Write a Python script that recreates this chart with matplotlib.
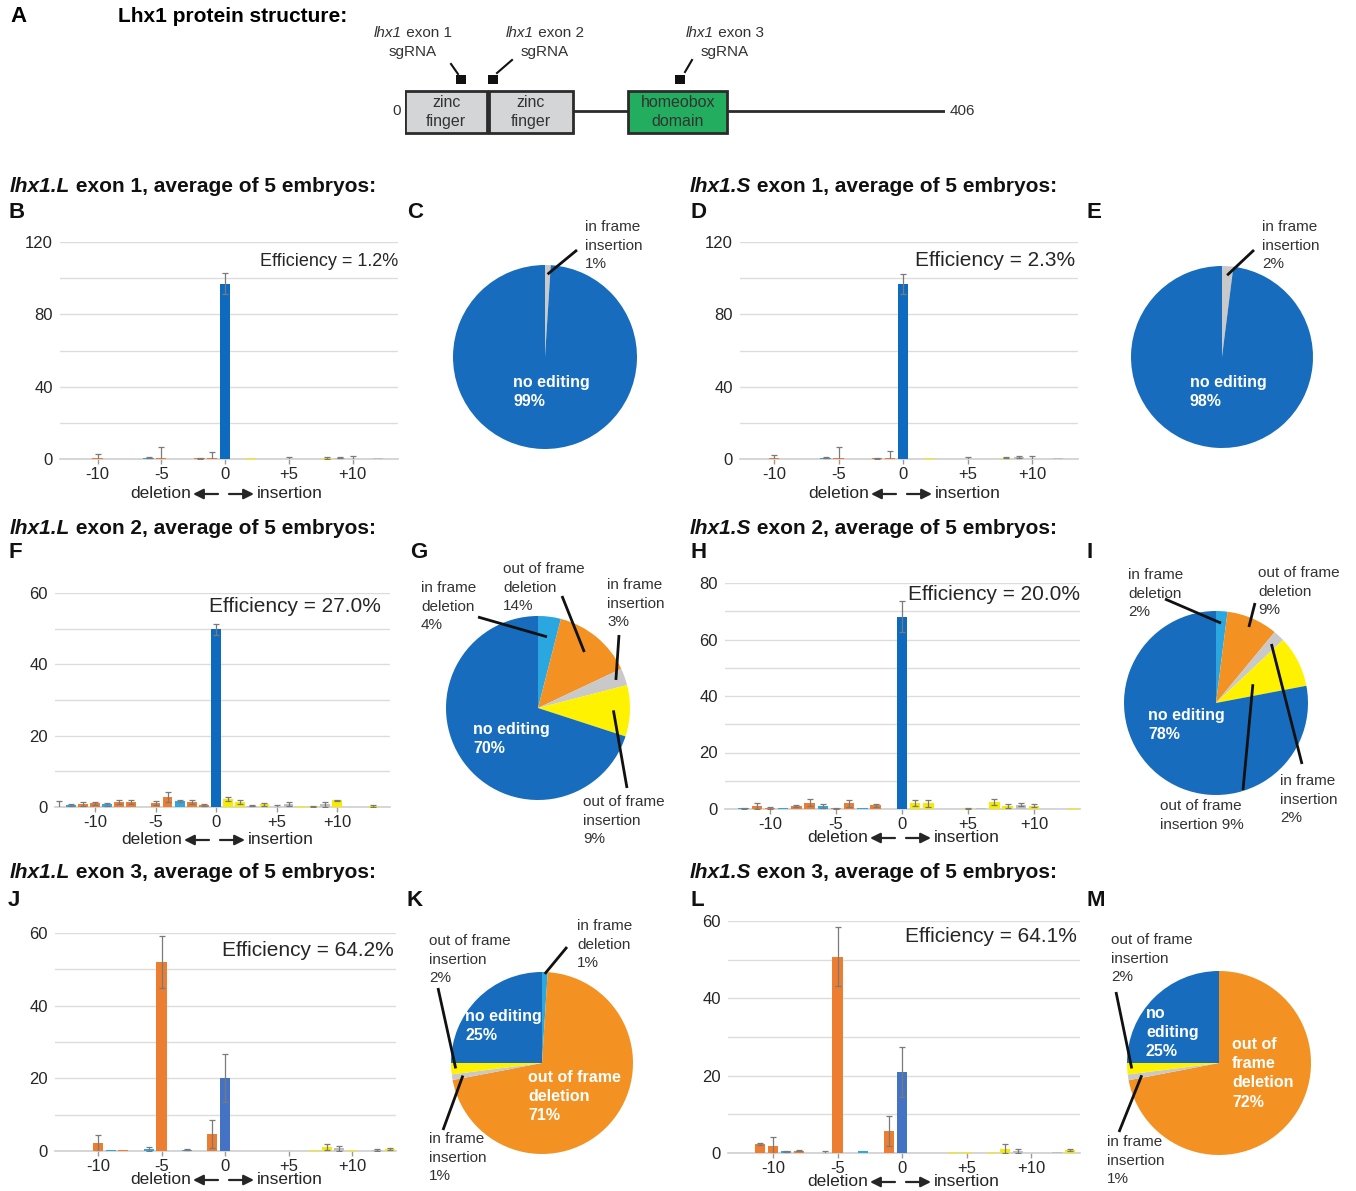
import matplotlib
matplotlib.use('Agg')
import matplotlib.pyplot as plt
from matplotlib.patches import Rectangle
from matplotlib.ticker import MultipleLocator
from matplotlib.offsetbox import TextArea, HPacker, AnnotationBbox
import numpy as np

plt.rcParams['font.family'] = ['Liberation Sans', 'DejaVu Sans']

W, H = 1356, 1191

# ---- data ----
protein_len = 406
domain_names = ['zinc\nfinger', 'zinc\nfinger', 'homeobox\ndomain']
domain_start = [0, 63, 168]
domain_end = [62, 126, 242]
domain_fill = ['#d3d5d6', '#d3d5d6', '#22ae5e']
sgrna_exon = ['exon 1', 'exon 2', 'exon 3']
sgrna_site = [42, 66, 207]

# indel size (bp) -> % of reads, mean and error
b_pos = [-12, -10, -9, -8, -6, -5, -3, -2, -1, 0, 2, 5, 7, 8, 9, 10, 12, 13]
b_val = [0.2, 0.3, 0.2, 0.2, 0.6, 0.4, 0.2, 0.4, 0.5, 97.0, 0.3, 0.1, 0.2, 0.6, 0.8, 0.2, 0.3, 0.2]
b_err = [0, 2.2, 0, 0, 0.3, 6.2, 0, 0.3, 3.6, 5.8, 0, 1.0, 0, 0.4, 0.5, 1.5, 0, 0]

d_pos = [-12, -10, -9, -8, -6, -5, -3, -2, -1, 0, 2, 5, 7, 8, 9, 10, 12, 13]
d_val = [0.2, 0.3, 0.2, 0.2, 0.6, 0.3, 0.2, 0.4, 0.5, 97.0, 0.3, 0.1, 0.2, 0.7, 0.9, 0.2, 0.3, 0.2]
d_err = [0, 2.0, 0, 0, 0.3, 6.5, 0, 0.3, 3.8, 5.5, 0, 1.0, 0, 0.4, 0.5, 1.6, 0, 0]

f_pos = [-13, -12, -11, -10, -9, -8, -7, -5, -4, -3, -2, -1, 0, 1, 2, 3, 4, 5, 6, 7, 8, 9, 10, 13]
f_val = [0, 0.5, 0.8, 1.0, 0.8, 1.4, 1.4, 1.2, 2.7, 1.6, 1.4, 0.6, 49.8, 2.2, 1.4, 0.4, 0.8, 0.1,
         0.9, 0.2, 0.2, 0.8, 1.9, 0.3]
f_err = [1.7, 0.3, 0.5, 0.5, 0.4, 0.5, 0.5, 0.6, 1.4, 0.3, 0.5, 0.2, 1.6, 0.6, 0.5, 0.2, 0.4, 0.4,
         0.6, 0, 0.1, 0.7, 0.2, 0.2]

h_pos = [-13, -12, -11, -10, -9, -8, -7, -6, -5, -4, -3, -2, 0, 1, 2, 5, 6, 7, 8, 9, 10, 13]
h_val = [0.1, 0.3, 1.0, 0.3, 0.3, 1.0, 2.3, 1.0, 0.3, 2.0, 0.3, 1.3, 68.0, 2.0, 2.0, 0.2, 0.3,
         2.6, 1.0, 1.5, 1.2, 0.5]
h_err = [0, 0.2, 1.1, 0.3, 0, 0.3, 1.2, 0.7, 0.2, 1.3, 0, 0.5, 5.5, 1.1, 1.2, 0.2, 0, 1.1, 0.6,
         0.6, 0.6, 0]

j_pos = [-12, -10, -9, -8, -6, -5, -3, -1, 0, 5, 7, 8, 9, 10, 12, 13]
j_val = [0.1, 2.1, 0.2, 0.2, 0.6, 52.1, 0.4, 4.6, 20.2, 0.1, 0.3, 1.0, 0.7, 0.2, 0.3, 0.6]
j_err = [0, 2.3, 0, 0, 0.5, 7.2, 0.2, 3.8, 6.6, 0, 0, 0.8, 0.7, 0, 0.3, 0.3]

l_pos = [-11, -10, -9, -8, -6, -5, -3, -1, 0, 4, 5, 7, 8, 9, 12, 13]
l_val = [2.3, 1.9, 0.4, 0.6, 0.1, 50.8, 0.4, 5.6, 21.0, 0.2, 0.2, 0.2, 1.1, 0.5, 0.3, 0.7]
l_err = [0.2, 2.2, 0.2, 0.2, 0.3, 7.6, 0, 3.9, 6.5, 0, 0, 0, 1.2, 0.5, 0, 0.3]

efficiency = ['1.2', '2.3', '27.0', '20.0', '64.2', '64.1']

# pie order: in frame del, out of frame del, in frame ins, out of frame ins, no editing
c_pie = [0, 0, 1, 0, 99]
e_pie = [0, 0, 2, 0, 98]
g_pie = [4, 14, 3, 9, 70]
i_pie = [2, 9, 2, 9, 78]
k_pie = [1, 71, 1, 2, 25]
m_pie = [0, 72, 1, 2, 25]

xtick_pos = [-10, -5, 0, 5, 10]
xtick_lab = ['-10', '-5', '0', '+5', '+10']

pie_colors = ['#2aa6e0', '#f39223', '#c9c9c9', '#fff200', '#176cbd']
ORANGE, LBLUE, GREY, YELLOW = '#ed7d31', '#2fa7e1', '#c0c0c0', '#f7ec00'
TXT = '#262626'

fig = plt.figure(figsize=(W / 100, H / 100), dpi=100)


def add_ax(l, t, r, b):
    return fig.add_axes([l / W, 1 - b / H, (r - l) / W, (b - t) / H])


bg = fig.add_axes([0, 0, 1, 1])
bg.set_xlim(0, W)
bg.set_ylim(H, 0)
bg.axis('off')
bg.set_zorder(10)


def mixed_text(x, y, parts, halign, fontsize, weight, color):
    kids = [TextArea(s, textprops=dict(fontsize=fontsize, fontweight=weight, fontstyle=st,
                                       color=color)) for s, st in parts]
    box = HPacker(children=kids, align='baseline', pad=0, sep=0)
    ab = AnnotationBbox(box, (x, y), xycoords='data', box_alignment=(halign, 0.5),
                        frameon=False, pad=0, annotation_clip=False)
    bg.add_artist(ab)


def bar_color(p, main):
    if p == 0:
        return main
    if p < 0:
        return LBLUE if p % 3 == 0 else ORANGE
    return GREY if p % 3 == 0 else YELLOW


def bar_panel(rect, zero_px, ppu, ymax, lab_step, grid_step, pos, val, err, main,
              eff, eff_xy, eff_fs, arrow_y):
    l, t, r, b = rect
    ax = add_ax(*rect)
    ax.set_facecolor('none')
    pos, val, err = np.array(pos), np.array(val), np.array(err)
    ax.bar(pos, val, width=0.8, color=[bar_color(p, main) for p in pos], zorder=3)
    m = err > 0
    ax.errorbar(pos[m], val[m], yerr=err[m], fmt='none', ecolor='#7a7a7a',
                elinewidth=0.9, capsize=2.2, capthick=0.9, zorder=4)
    ax.set_xlim((l - zero_px) / ppu, (r - zero_px) / ppu)
    ax.set_ylim(0, ymax)
    ax.set_yticks(np.arange(0, ymax + 1, lab_step))
    ax.yaxis.set_minor_locator(MultipleLocator(grid_step))
    ax.grid(axis='y', which='both', color='#dcdcdc', lw=1)
    ax.set_axisbelow(True)
    ax.set_xticks(xtick_pos, xtick_lab)
    for s in ['top', 'right', 'left']:
        ax.spines[s].set_visible(False)
    ax.spines['bottom'].set_color('#cfcfcf')
    ax.spines['bottom'].set_linewidth(1.2)
    ax.tick_params(axis='y', which='both', length=0, pad=5, labelsize=12, labelcolor=TXT)
    ax.tick_params(axis='x', length=3.6, width=1, color='#9a9a9a', pad=2,
                   labelsize=12, labelcolor=TXT)
    bg.text(eff_xy[0], eff_xy[1], f'Efficiency = {eff}%', ha='right', va='center',
            fontsize=eff_fs, color=TXT)
    bg.text(zero_px - 34, arrow_y, 'deletion', ha='right', va='center', fontsize=12.5, color=TXT)
    bg.text(zero_px + 32, arrow_y, 'insertion', ha='left', va='center', fontsize=12.5, color=TXT)
    ap = dict(arrowstyle='-|>', color=TXT, lw=1.6, mutation_scale=15, shrinkA=0, shrinkB=0)
    bg.annotate('', xy=(zero_px - 32, arrow_y), xytext=(zero_px - 7, arrow_y), arrowprops=ap)
    bg.annotate('', xy=(zero_px + 29, arrow_y), xytext=(zero_px + 4, arrow_y), arrowprops=ap)
    return ax


def pie_panel(cx, cy, rad, vals, outer, inner):
    ax = add_ax(cx - rad, cy - rad, cx + rad, cy + rad)
    wedges, _ = ax.pie(vals, colors=pie_colors, startangle=90, counterclock=False,
                       radius=1, wedgeprops=dict(linewidth=0))
    ax.set_xlim(-1, 1)
    ax.set_ylim(-1, 1)
    ax.axis('off')
    for k, tmpl, tx, ty, sx, sy, rf in outer:
        bg.text(tx, ty + 3, tmpl.format(vals[k]), ha='left', va='top', fontsize=11,
                color='#333333', linespacing=1.42)
        w = wedges[k]
        ang = np.deg2rad((w.theta1 + w.theta2) / 2)
        bg.plot([sx, cx + rf * rad * np.cos(ang)], [sy, cy - rf * rad * np.sin(ang)],
                color='#111111', lw=2, solid_capstyle='butt')
    for tmpl, k, tx, ty in inner:
        bg.text(tx, ty + 2, tmpl.format(vals[k]), ha='left', va='top', fontsize=11.5,
                color='white', fontweight='bold', linespacing=1.35)


# ---- panel A: protein diagram ----
bg.text(10, 17, 'A', fontsize=16, fontweight='bold', va='center', ha='left')
bg.text(118, 17, 'Lhx1 protein structure:', fontsize=15, fontweight='bold', va='center', ha='left')
pa = add_ax(405, 60, 945, 140)
pa.set_xlim(0, protein_len)
pa.set_ylim(140, 60)
pa.axis('off')
pa.plot([0, protein_len], [111, 111], color='#2b2b2b', lw=2, zorder=1)
for name, s, e, fc in zip(domain_names, domain_start, domain_end, domain_fill):
    pa.add_patch(Rectangle((s, 91), e - s, 42, facecolor=fc, edgecolor='#2b2b2b', lw=2, zorder=2))
    pa.text((s + e) / 2, 112, name, ha='center', va='center', fontsize=11.5, color='#333333',
            linespacing=1.35, zorder=3)
for site in sgrna_site:
    pa.add_patch(Rectangle((site - 3.7, 75), 7.4, 9, facecolor='#111111', edgecolor='none'))
bg.text(401, 111, '0', ha='right', va='center', fontsize=11, color='#333333')
bg.text(950, 111, '406', ha='left', va='center', fontsize=11, color='#333333')
sg_label_x = [413, 545, 725]
sg_lines = [((451, 64), (458, 74)), ((512, 60), (497, 73)), ((692, 60), (685, 72))]
for ex, lx, ((x1, y1), (x2, y2)) in zip(sgrna_exon, sg_label_x, sg_lines):
    mixed_text(lx, 33, [('lhx1', 'italic'), (' ' + ex, 'normal')], 0.5, 11, 'normal', '#333333')
    bg.text(lx, 52, 'sgRNA', ha='center', va='center', fontsize=11, color='#333333')
    bg.plot([x1, x2], [y1, y2], color='#111111', lw=1.5)

# ---- titles and letters ----
titles = [(10, 186, 'lhx1.L', 'exon 1'), (690, 186, 'lhx1.S', 'exon 1'),
          (10, 528, 'lhx1.L', 'exon 2'), (690, 528, 'lhx1.S', 'exon 2'),
          (10, 872, 'lhx1.L', 'exon 3'), (690, 872, 'lhx1.S', 'exon 3')]
for x, y, gene, ex in titles:
    mixed_text(x, y, [(gene, 'italic'), (' ' + ex + ', average of 5 embryos:', 'normal')],
               0.0, 15, 'bold', '#111111')
letters = [('B', 8, 212), ('C', 407, 212), ('D', 690, 212), ('E', 1087, 212),
           ('F', 8, 553), ('G', 410, 553), ('H', 690, 553), ('I', 1087, 553),
           ('J', 8, 900), ('K', 407, 900), ('L', 690, 900), ('M', 1087, 900)]
for s, x, y in letters:
    bg.text(x, y, s, fontsize=16, fontweight='bold', va='center', ha='left', color='#111111')

# ---- bar charts ----
bar_panel((60, 242, 398, 459), 225, 12.75, 120, 40, 20, b_pos, b_val, b_err, '#0d6abf',
          efficiency[0], (398, 262), 13, 494)
bar_panel((740, 242, 1078, 459), 903, 12.9, 120, 40, 20, d_pos, d_val, d_err, '#0d6abf',
          efficiency[1], (1075, 260), 15, 494)
bar_panel((55, 593, 390, 807), 216, 12.1, 60, 20, 10, f_pos, f_val, f_err, '#0d6abf',
          efficiency[2], (381, 606), 15, 840)
bar_panel((725, 583, 1080, 809), 902, 13.2, 80, 20, 10, h_pos, h_val, h_err, '#0d6abf',
          efficiency[3], (1080, 594), 15, 838)
bar_panel((55, 933, 396, 1151), 225, 12.7, 60, 20, 10, j_pos, j_val, j_err, '#4472c4',
          efficiency[4], (394, 951), 15, 1180)
bar_panel((728, 921, 1080, 1153), 902, 12.9, 60, 20, 10, l_pos, l_val, l_err, '#4472c4',
          efficiency[5], (1077, 937), 15, 1182)

# ---- pies ----
IFD, OFD, IFI, OFI, NE = 0, 1, 2, 3, 4
pie_panel(545, 357, 92, c_pie,
          [(IFI, 'in frame\ninsertion\n{}%', 585, 217, 577, 250, 0.9)],
          [('no editing\n{}%', NE, 513, 373)])
pie_panel(1222, 357, 91, e_pie,
          [(IFI, 'in frame\ninsertion\n{}%', 1262, 217, 1254, 250, 0.9)],
          [('no editing\n{}%', NE, 1190, 373)])
pie_panel(538, 708, 92, g_pie,
          [(IFD, 'in frame\ndeletion\n{}%', 421, 578, 478, 617, 0.78),
           (OFD, 'out of frame\ndeletion\n{}%', 503, 559, 562, 596, 0.79),
           (IFI, 'in frame\ninsertion\n{}%', 607, 575, 619, 635, 0.9),
           (OFI, 'out of frame\ninsertion\n{}%', 583, 792, 627, 788, 0.82)],
          [('no editing\n{}%', NE, 473, 720)])
pie_panel(1216, 703, 92, i_pie,
          [(IFD, 'in frame\ndeletion\n{}%', 1128, 565, 1165, 599, 0.87),
           (OFD, 'out of frame\ndeletion\n{}%', 1258, 563, 1255, 603, 0.9),
           (IFI, 'in frame\ninsertion\n{}%', 1280, 771, 1302, 764, 0.88),
           (OFI, 'out of frame\ninsertion {}%', 1160, 796, 1243, 790, 0.45)],
          [('no editing\n{}%', NE, 1148, 706)])
pie_panel(542, 1063, 91, k_pie,
          [(IFD, 'in frame\ndeletion\n{}%', 577, 916, 567, 947, 0.98),
           (OFI, 'out of frame\ninsertion\n{}%', 429, 931, 438, 988, 0.95),
           (IFI, 'in frame\ninsertion\n{}%', 429, 1129, 443, 1130, 0.88)],
          [('no editing\n{}%', NE, 465, 1007), ('out of frame\ndeletion\n{}%', OFD, 528, 1068)])
pie_panel(1219, 1063, 92, m_pie,
          [(OFI, 'out of frame\ninsertion\n{}%', 1111, 930, 1116, 992, 0.95),
           (IFI, 'in frame\ninsertion\n{}%', 1107, 1132, 1119, 1132, 0.85)],
          [('no\nediting\n{}%', NE, 1146, 1004), ('out of\nframe\ndeletion\n{}%', OFD, 1232, 1035)])

fig.savefig('out.png', dpi=100)
